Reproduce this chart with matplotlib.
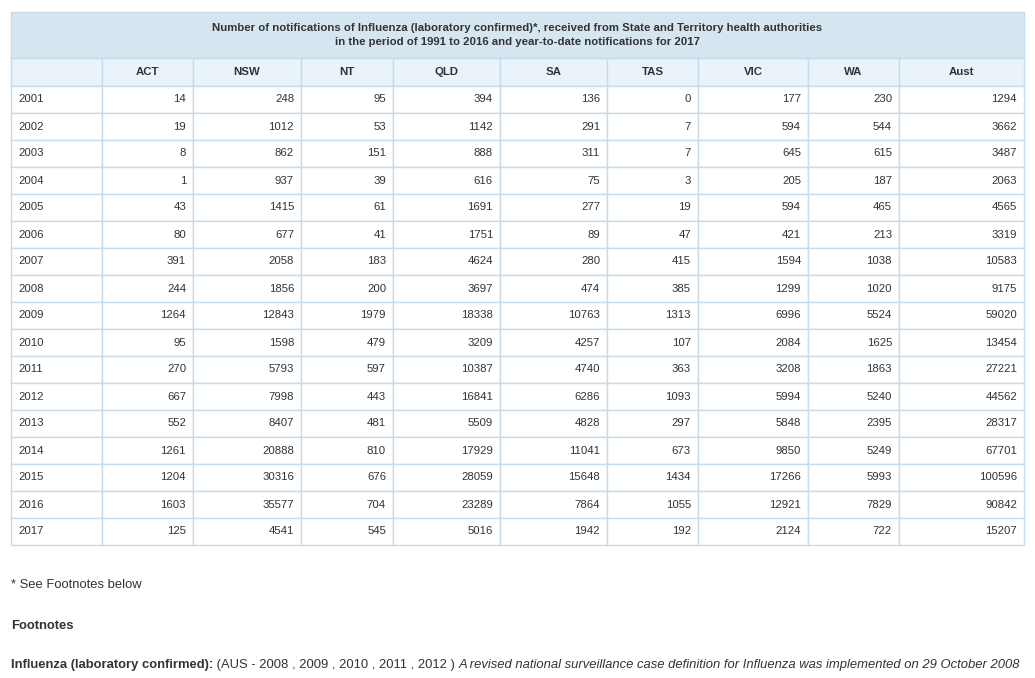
import matplotlib
matplotlib.use("Agg")
import matplotlib.pyplot as plt
from matplotlib.patches import Rectangle

plt.rcParams["font.family"] = ["Liberation Sans", "DejaVu Sans"]

years = list(range(2001, 2018))
states = ["ACT", "NSW", "NT", "QLD", "SA", "TAS", "VIC", "WA", "Aust"]
act = [14, 19, 8, 1, 43, 80, 391, 244, 1264, 95, 270, 667, 552, 1261, 1204, 1603, 125]
nsw = [248, 1012, 862, 937, 1415, 677, 2058, 1856, 12843, 1598, 5793, 7998, 8407, 20888, 30316, 35577, 4541]
nt = [95, 53, 151, 39, 61, 41, 183, 200, 1979, 479, 597, 443, 481, 810, 676, 704, 545]
qld = [394, 1142, 888, 616, 1691, 1751, 4624, 3697, 18338, 3209, 10387, 16841, 5509, 17929, 28059, 23289, 5016]
sa = [136, 291, 311, 75, 277, 89, 280, 474, 10763, 4257, 4740, 6286, 4828, 11041, 15648, 7864, 1942]
tas = [0, 7, 7, 3, 19, 47, 415, 385, 1313, 107, 363, 1093, 297, 673, 1434, 1055, 192]
vic = [177, 594, 645, 205, 594, 421, 1594, 1299, 6996, 2084, 3208, 5994, 5848, 9850, 17266, 12921, 2124]
wa = [230, 544, 615, 187, 465, 213, 1038, 1020, 5524, 1625, 1863, 5240, 2395, 5249, 5993, 7829, 722]
aust = [1294, 3662, 3487, 2063, 4565, 3319, 10583, 9175, 59020, 13454, 27221, 44562, 28317, 67701, 100596, 90842, 15207]
columns = [act, nsw, nt, qld, sa, tas, vic, wa, aust]

title = ("Number of notifications of Influenza (laboratory confirmed)*, received from State and Territory health authorities\n"
         "in the period of 1991 to 2016 and year-to-date notifications for 2017")

# layout in pixels
xs = [11, 102, 193, 301, 393, 500, 607, 698, 808, 899, 1024]
y_title, y_head, y_body, row_h = 12, 58, 86, 27
grid = "#c6dcec"
fs = 8.2
ffs = 9.4

fig = plt.figure(figsize=(10.35, 6.78), dpi=100)
ax = fig.add_axes([0, 0, 1, 1])
ax.set_xlim(0, 1035); ax.set_ylim(678, 0); ax.axis("off")

ax.add_patch(Rectangle((xs[0], y_title), xs[-1] - xs[0], y_head - y_title, fc="#d5e6f1", ec=grid, lw=1))
ax.text((xs[0] + xs[-1]) / 2, (y_title + y_head) / 2, title, ha="center", va="center",
        fontsize=fs, fontweight="bold", color="#333333", linespacing=1.5)
for i in range(len(xs) - 1):
    ax.add_patch(Rectangle((xs[i], y_head), xs[i + 1] - xs[i], y_body - y_head, fc="#e9f3f9", ec=grid, lw=1))
    if i > 0:
        ax.text((xs[i] + xs[i + 1]) / 2, (y_head + y_body) / 2, states[i - 1], ha="center", va="center",
                fontsize=fs, fontweight="bold", color="#333333")

for r, yr in enumerate(years):
    y0 = y_body + r * row_h
    for i in range(len(xs) - 1):
        ax.add_patch(Rectangle((xs[i], y0), xs[i + 1] - xs[i], row_h, fc="white", ec=grid, lw=1))
    ax.text(xs[0] + 7, y0 + row_h / 2, str(yr), ha="left", va="center", fontsize=fs, color="#333333")
    for c, col in enumerate(columns):
        ax.text(xs[c + 2] - 7, y0 + row_h / 2, str(col[r]), ha="right", va="center", fontsize=fs, color="#333333")

ax.text(11, 585, "* See Footnotes below", ha="left", va="center", fontsize=ffs, color="#333333")
ax.text(11, 626, "Footnotes", ha="left", va="center", fontsize=ffs, fontweight="bold", color="#333333")
t = ax.text(11, 665, "Influenza (laboratory confirmed):", ha="left", va="center", fontsize=ffs,
            fontweight="bold", color="#333333")
t2 = ax.annotate(" (AUS - 2008 , 2009 , 2010 , 2011 , 2012 ) ", xycoords=t, xy=(1, 0.5), va="center",
                 fontsize=ffs, color="#333333")
ax.annotate("A revised national surveillance case definition for Influenza was implemented on 29 October 2008",
            xycoords=t2, xy=(1, 0.5), va="center", fontsize=ffs, fontstyle="italic", color="#333333")

fig.savefig("out.png", dpi=100)
